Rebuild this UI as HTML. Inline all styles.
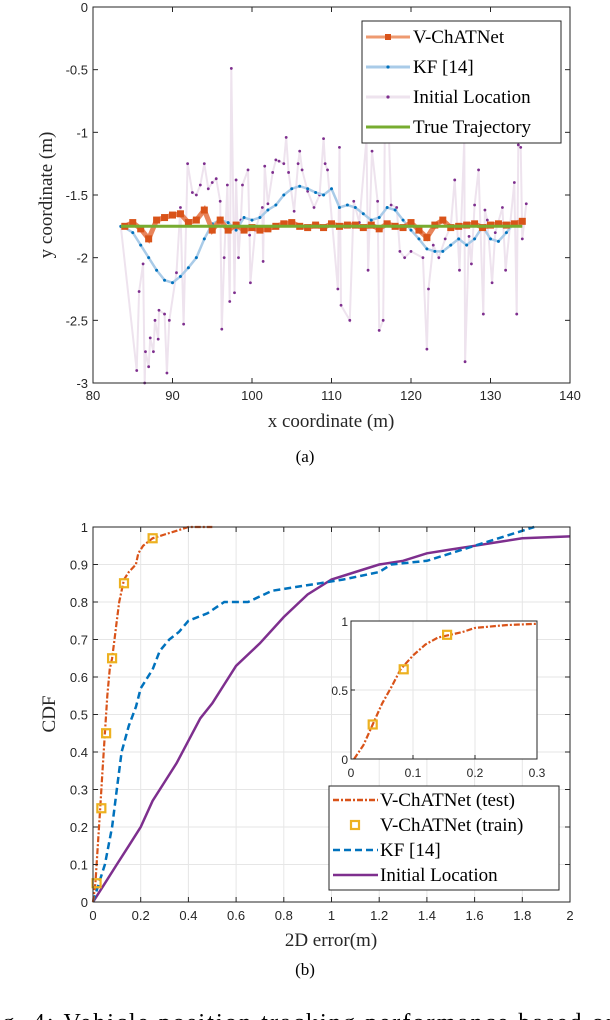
<!DOCTYPE html>
<html><head><meta charset="utf-8"><style>
body{margin:0;background:#fff;width:610px;height:1020px;overflow:hidden}
svg{display:block}
.tk{font-family:"Liberation Sans",sans-serif;font-size:13px;fill:#262626}
.ttl{font-family:"Liberation Serif",serif;font-size:19px;fill:#262626}
.lg{font-family:"Liberation Serif",serif;font-size:19px;fill:#000}
.cap{font-family:"Liberation Serif",serif;font-size:17px;fill:#000}
</style></head><body>
<svg id="fig" width="610" height="1020">
<g id="chartA"></g>
<g id="chartB"></g>
<text class="cap" x="305" y="462" text-anchor="middle">(a)</text>
<text class="cap" x="305" y="975" text-anchor="middle">(b)</text>
<text class="cap" x="-22" y="1030" style="font-size:24px" textLength="640" lengthAdjust="spacing">Fig. 4: Vehicle position tracking performance based on</text>
</svg>
<script>
// ---- chart A data ----
const kfX = [83.5,84,85,86,87,88,89,90,91,92,93,94,95,96,97,98,99,100,101,102,103,104,105,106,107,108,109,110,111,112,113,114,115,116,117,118,119,120,121,122,123,124,125,126,127,128,129,130,131,132,133,134];
const kfY = [-1.75,-1.76,-1.8,-1.9,-2.0,-2.1,-2.18,-2.2,-2.15,-2.08,-2.0,-1.85,-1.73,-1.7,-1.72,-1.78,-1.68,-1.7,-1.68,-1.62,-1.58,-1.5,-1.45,-1.43,-1.45,-1.48,-1.5,-1.45,-1.6,-1.58,-1.6,-1.65,-1.7,-1.68,-1.6,-1.62,-1.7,-1.78,-1.85,-1.93,-1.95,-1.95,-1.9,-1.85,-1.9,-1.85,-1.75,-1.85,-1.87,-1.8,-1.72,-1.7];
const initX = [83.5,85.5,85.8,86.3,86.5,86.6,87,87.2,87.6,87.8,88.2,88.3,89,89.3,89.6,90.5,91,91.4,91.9,92.5,93,93.5,94,94.5,95,95.5,96,96.2,96.5,96.9,97.2,97.4,97.8,98,98.3,98.6,98.8,99.5,99.7,99.8,100.4,101.3,101.4,101.6,102,102.6,103,103.4,104,104.3,104.6,105.3,105.8,106,106.3,107,107.8,108.5,109,109.2,109.5,110.8,111,111.2,112.3,112.8,113.5,114.4,114.6,115.1,115.8,116,116.5,116.7,117.2,117.5,118.2,118.6,119.2,120,121.5,122,122.2,122.8,123.5,124.3,125,125.5,126.1,126.7,126.8,127.3,127.6,128,128.5,129.1,129.3,129.6,130.2,130.6,131.5,131.9,133,133.3,133.5,133.8,134,134.5];
const initY = [-1.75,-2.9,-2.27,-2.05,-3.0,-2.75,-2.87,-2.64,-2.75,-2.5,-2.65,-2.42,-2.45,-2.92,-2.5,-2.12,-1.6,-2.53,-1.25,-1.48,-1.5,-1.42,-1.25,-1.45,-1.4,-1.37,-1.55,-2.57,-2.0,-1.42,-2.35,-0.49,-2.28,-1.38,-2.0,-1.7,-1.42,-1.3,-1.82,-2.2,-1.78,-1.6,-2.03,-1.27,-1.57,-1.32,-1.22,-1.23,-1.25,-1.04,-1.32,-1.63,-1.25,-1.15,-1.3,-1.47,-1.6,-1.5,-1.05,-1.25,-1.3,-2.25,-1.12,-2.38,-2.5,-1.55,-1.72,-1.05,-2.1,-1.15,-1.55,-2.58,-2.5,-1.0,-0.97,-1.58,-1.6,-1.95,-2.0,-1.95,-2.0,-2.73,-2.25,-1.9,-2.0,-1.85,-1.75,-1.38,-2.1,-1.05,-2.83,-1.83,-2.05,-1.58,-1.3,-2.45,-1.62,-1.7,-2.2,-1.8,-1.6,-2.1,-1.4,-2.45,-1.1,-1.12,-1.85,-1.57];
const vcX = [84,85,86,87,88,89,90,91,92,93,94,95,96,97,98,99,100,101,102,103,104,105,106,107,108,109,110,111,112,113,114,115,116,117,118,119,120,121,122,123,124,125,126,127,128,129,130,131,132,133,134];
const vcY = [-1.75,-1.72,-1.77,-1.85,-1.70,-1.68,-1.66,-1.65,-1.72,-1.70,-1.62,-1.78,-1.70,-1.78,-1.74,-1.78,-1.76,-1.78,-1.77,-1.75,-1.73,-1.72,-1.75,-1.76,-1.74,-1.76,-1.73,-1.75,-1.74,-1.74,-1.76,-1.74,-1.77,-1.73,-1.75,-1.76,-1.72,-1.78,-1.84,-1.74,-1.70,-1.76,-1.75,-1.74,-1.73,-1.76,-1.74,-1.73,-1.74,-1.73,-1.71];
const trueX = [83.5,134];
const trueY = [-1.75,-1.75];
const aXTicks = [80,90,100,110,120,130,140];
const aYTicks = [0,-0.5,-1,-1.5,-2,-2.5,-3];
const aYLabels = ["0","-0.5","-1","-1.5","-2","-2.5","-3"];
// ---- chart B data ----
const testX = [0,0.01,0.02,0.03,0.04,0.05,0.06,0.07,0.08,0.09,0.1,0.11,0.12,0.13,0.15,0.18,0.19,0.21,0.25,0.3,0.35,0.4,0.5];
const testY = [0,0.05,0.15,0.25,0.35,0.45,0.55,0.62,0.65,0.7,0.75,0.8,0.83,0.86,0.88,0.9,0.93,0.95,0.97,0.98,0.99,1,1];
const trainX = [0.015,0.035,0.055,0.08,0.13,0.25];
const trainY = [0.05,0.25,0.45,0.65,0.85,0.97];
const kfcX = [0,0.05,0.08,0.1,0.12,0.15,0.18,0.2,0.25,0.28,0.32,0.36,0.4,0.48,0.55,0.65,0.75,0.85,0.95,1.05,1.2,1.25,1.4,1.5,1.6,1.7,1.8,1.85];
const kfcY = [0,0.1,0.2,0.3,0.4,0.47,0.52,0.57,0.62,0.67,0.7,0.72,0.75,0.77,0.8,0.8,0.83,0.84,0.85,0.86,0.88,0.9,0.91,0.93,0.95,0.97,0.99,1];
const initcX = [0,0.05,0.1,0.15,0.2,0.25,0.3,0.35,0.4,0.45,0.5,0.55,0.6,0.7,0.8,0.9,1,1.1,1.2,1.3,1.4,1.5,1.6,1.7,1.8,2];
const initcY = [0,0.05,0.1,0.15,0.2,0.27,0.32,0.37,0.43,0.49,0.53,0.58,0.63,0.69,0.76,0.82,0.86,0.88,0.9,0.91,0.93,0.94,0.95,0.96,0.97,0.975];
const insetX = [0.005,0.02,0.035,0.05,0.065,0.08,0.1,0.12,0.14,0.16,0.18,0.2,0.25,0.3];
const insetY = [0,0.1,0.25,0.4,0.52,0.65,0.75,0.83,0.88,0.9,0.92,0.95,0.97,0.98];
const insetTrainX = [0.035,0.085,0.155];
const insetTrainY = [0.25,0.65,0.9];
const bXTicks = [0,0.2,0.4,0.6,0.8,1,1.2,1.4,1.6,1.8,2];
const bXLabels = ["0","0.2","0.4","0.6","0.8","1","1.2","1.4","1.6","1.8","2"];
const bYTicks = [0,0.1,0.2,0.3,0.4,0.5,0.6,0.7,0.8,0.9,1];
const bYLabels = ["0","0.1","0.2","0.3","0.4","0.5","0.6","0.7","0.8","0.9","1"];
const inXTicks = [0,0.1,0.2,0.3];
const inXLabels = ["0","0.1","0.2","0.3"];
const inYTicks = [0,0.5,1];
const inYLabels = ["0","0.5","1"];

const NS="http://www.w3.org/2000/svg";
function mk(parent,tag,attrs){const e=document.createElementNS(NS,tag);for(const k in attrs)e.setAttribute(k,attrs[k]);parent.appendChild(e);return e;}
function lin(d0,d1,r0,r1){return v=>r0+(v-d0)/(d1-d0)*(r1-r0);}
function pathD(xs,ys,sx,sy){return xs.map((x,i)=>(i?'L':'M')+sx(x).toFixed(1)+','+sy(ys[i]).toFixed(1)).join('');}

// ===== Chart A =====
const A=document.getElementById('chartA');
const ax=lin(80,140,93,570), ay=lin(0,-3,7,383);
let e;
e=mk(A,'path',{d:pathD(initX,initY,ax,ay),fill:'none',stroke:'#eee3ee','stroke-width':2});


initX.forEach((x,i)=>{const c=mk(A,'circle',{cx:ax(x),cy:ay(initY[i]),r:1.4,fill:'#7e2f8e'});

});
e=mk(A,'path',{d:pathD(kfX,kfY,ax,ay),fill:'none',stroke:'#a9cbe8','stroke-width':2.5});


kfX.forEach((x,i)=>{const c=mk(A,'circle',{cx:ax(x),cy:ay(kfY[i]),r:1.5,fill:'#0072bd'});

});
e=mk(A,'path',{d:pathD(vcX,vcY,ax,ay),fill:'none',stroke:'#e8845a','stroke-width':5});


vcX.forEach((x,i)=>{const c=mk(A,'rect',{x:ax(x)-3.5,y:ay(vcY[i])-3.5,width:7,height:7,fill:'#d95319'});

});
e=mk(A,'path',{d:pathD(trueX,trueY,ax,ay),fill:'none',stroke:'#77ac30','stroke-width':3});


e=mk(A,'rect',{x:93,y:7,width:477,height:376,fill:'none',stroke:'#262626','stroke-width':1});


aXTicks.forEach(t=>{mk(A,'line',{x1:ax(t),x2:ax(t),y1:383,y2:378,stroke:'#262626'});mk(A,'line',{x1:ax(t),x2:ax(t),y1:7,y2:12,stroke:'#262626'});
const l=mk(A,'text',{x:ax(t),y:400,'text-anchor':'middle',class:'tk'});l.textContent=t;

});
aYTicks.forEach((t,i)=>{mk(A,'line',{x1:93,x2:98,y1:ay(t),y2:ay(t),stroke:'#262626'});mk(A,'line',{x1:570,x2:565,y1:ay(t),y2:ay(t),stroke:'#262626'});
const l=mk(A,'text',{x:88,y:ay(t)+5,'text-anchor':'end',class:'tk'});l.textContent=aYLabels[i];

});
e=mk(A,'text',{x:331,y:427,'text-anchor':'middle',class:'ttl'});e.textContent='x coordinate (m)';


e=mk(A,'text',{x:0,y:0,'text-anchor':'middle',class:'ttl',transform:'translate(52,195) rotate(-90)'});e.textContent='y coordinate (m)';


// legend A
const LA=mk(A,'g',{});


mk(LA,'rect',{x:362,y:21,width:199,height:122,fill:'#fff',stroke:'#262626'});
const la=[['V-ChATNet','#ee9a70','#d95319','sq'],['KF [14]','#a9cbe8','#0072bd','dot'],['Initial Location','#eee3ee','#7e2f8e','dot'],['True Trajectory','#77ac30',null,'']];
la.forEach((r,i)=>{const y=37+i*30;const g=mk(LA,'g',{});


mk(g,'line',{x1:366,x2:410,y1:y,y2:y,stroke:r[1],'stroke-width':3});
if(r[3]==='sq')mk(g,'rect',{x:385,y:y-3,width:6,height:6,fill:r[2]});
if(r[3]==='dot')mk(g,'circle',{cx:388,cy:y,r:1.6,fill:r[2]});
const t=mk(g,'text',{x:413,y:y+6,class:'lg'});t.textContent=r[0];});

// ===== Chart B =====
const B=document.getElementById('chartB');
const bx=lin(0,2,93,570), by=lin(0,1,902,527);
bXTicks.forEach(t=>mk(B,'line',{x1:bx(t),x2:bx(t),y1:527,y2:902,stroke:'#e6e6e6'}));
bYTicks.forEach(t=>mk(B,'line',{x1:93,x2:570,y1:by(t),y2:by(t),stroke:'#e6e6e6'}));
e=mk(B,'path',{d:pathD(initcX,initcY,bx,by),fill:'none',stroke:'#7e2f8e','stroke-width':2.5});


e=mk(B,'path',{d:pathD(kfcX,kfcY,bx,by),fill:'none',stroke:'#0072bd','stroke-width':2.5,'stroke-dasharray':'7,4'});


e=mk(B,'path',{d:pathD(testX,testY,bx,by),fill:'none',stroke:'#d95319','stroke-width':2.2,'stroke-dasharray':'6,2,2,2'});


trainX.forEach((x,i)=>{const r=mk(B,'rect',{x:bx(x)-4,y:by(trainY[i])-4,width:8,height:8,fill:'none',stroke:'#edb120','stroke-width':2.2});

});
e=mk(B,'rect',{x:93,y:527,width:477,height:375,fill:'none',stroke:'#262626'});


bXTicks.forEach((t,i)=>{mk(B,'line',{x1:bx(t),x2:bx(t),y1:902,y2:897,stroke:'#262626'});mk(B,'line',{x1:bx(t),x2:bx(t),y1:527,y2:532,stroke:'#262626'});
const l=mk(B,'text',{x:bx(t),y:920,'text-anchor':'middle',class:'tk'});l.textContent=bXLabels[i];

});
bYTicks.forEach((t,i)=>{mk(B,'line',{x1:93,x2:98,y1:by(t),y2:by(t),stroke:'#262626'});mk(B,'line',{x1:570,x2:565,y1:by(t),y2:by(t),stroke:'#262626'});
const l=mk(B,'text',{x:88,y:by(t)+5,'text-anchor':'end',class:'tk'});l.textContent=bYLabels[i];

});
e=mk(B,'text',{x:331,y:946,'text-anchor':'middle',class:'ttl'});e.textContent='2D error(m)';


e=mk(B,'text',{x:0,y:0,'text-anchor':'middle',class:'ttl',transform:'translate(55,714) rotate(-90)'});e.textContent='CDF';


// inset
const I=mk(B,'g',{});


const ix=lin(0,0.3,351,537), iy=lin(0,1,759,621);
mk(I,'rect',{x:351,y:621,width:186,height:138,fill:'#fff'});
inXTicks.forEach(t=>mk(I,'line',{x1:ix(t),x2:ix(t),y1:621,y2:759,stroke:'#e6e6e6'}));
inYTicks.forEach(t=>mk(I,'line',{x1:351,x2:537,y1:iy(t),y2:iy(t),stroke:'#e6e6e6'}));
e=mk(I,'path',{d:pathD(insetX,insetY,ix,iy),fill:'none',stroke:'#d95319','stroke-width':2.2,'stroke-dasharray':'6,2,2,2'});


insetTrainX.forEach((x,i)=>{const r=mk(I,'rect',{x:ix(x)-4,y:iy(insetTrainY[i])-4,width:8,height:8,fill:'none',stroke:'#edb120','stroke-width':2.2});

});
mk(I,'rect',{x:351,y:621,width:186,height:138,fill:'none',stroke:'#262626'});
inXTicks.forEach((t,i)=>{mk(I,'line',{x1:ix(t),x2:ix(t),y1:759,y2:755,stroke:'#262626'});
const l=mk(I,'text',{x:ix(t),y:777,'text-anchor':'middle',class:'tk',style:'font-size:12px'});l.textContent=inXLabels[i];

});
inYTicks.forEach((t,i)=>{mk(I,'line',{x1:351,x2:355,y1:iy(t),y2:iy(t),stroke:'#262626'});
const l=mk(I,'text',{x:348,y:iy(t)+5,'text-anchor':'end',class:'tk',style:'font-size:12px'});l.textContent=inYLabels[i];

});
// legend B
const LB=mk(B,'g',{});


mk(LB,'rect',{x:329,y:786,width:230,height:104,fill:'#fff',stroke:'#262626'});
const lb=[['V-ChATNet (test)','line','#d95319','6,2,2,2'],['V-ChATNet (train)','sq','#edb120',''],['KF [14]','line','#0072bd','7,4'],['Initial Location','line','#7e2f8e','']];
lb.forEach((r,i)=>{const y=800+i*25;const g=mk(LB,'g',{});


if(r[1]==='line')mk(g,'line',{x1:333,x2:378,y1:y,y2:y,stroke:r[2],'stroke-width':2.5,'stroke-dasharray':r[3]||'none'});
else mk(g,'rect',{x:351,y:y-4,width:8,height:8,fill:'none',stroke:r[2],'stroke-width':2.2});
const t=mk(g,'text',{x:380,y:y+6,class:'lg'});t.textContent=r[0];});
</script>
</body></html>
